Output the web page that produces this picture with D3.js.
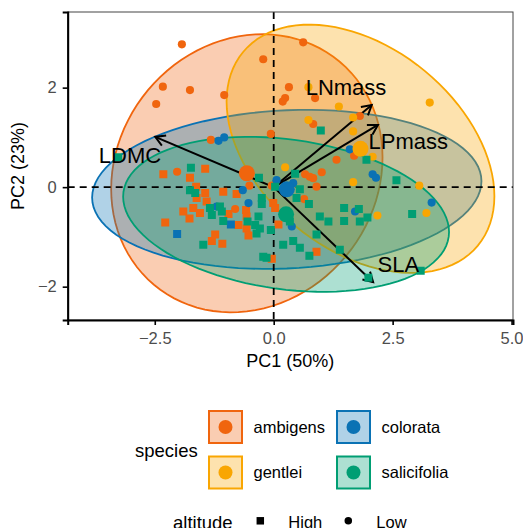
<!DOCTYPE html>
<html>
<head>
<meta charset="utf-8">
<script src="https://cdn.jsdelivr.net/npm/d3@7"></script>
<style>
body { margin: 0; background: #fff; }
text { font-family: "Liberation Sans", Arial, sans-serif; }
</style>
</head>
<body>
<svg id="chart" width="523" height="528"></svg>
<script>
// species and colours
const species = ["ambigens", "colorata", "gentlei", "salicifolia"];
const speciesColors = ["#F0650E", "#0A72B4", "#F9A602", "#009E73"];
const altitudes = ["High", "Low"];

// PCA scores (L = Low altitude, H = High altitude)
const ambigensPC1 = [-1.93, -2.33, -1.76, -2.47, -1.04, -1.32, -2.03, 0.62, -0.22, 0.32, 0.24, 0.19, 0.87, 1.81, 0.83, -0.06, 1.69, 1.32, 0.66, 0.76, 0.83, 1.01, 0.90, -0.51, 0.64, -0.81, -0.04,
  -2.32, -1.44, -1.76, -1.63, -1.44, -1.06, -1.62, -1.41, -0.78, -1.90, -1.69, -1.55, -1.77, -0.95, -0.74, -2.28, -1.23, -1.30, -1.08, -0.01, 0.03, -0.58, -0.57, 0.10, -0.57, -0.53, 0.90, -0.04];
const ambigensPC2 = [2.87, 2.02, 1.95, 1.67, 1.85, 0.95, 0.31, 2.91, 2.57, 2.01, 1.79, 1.72, 1.79, 1.43, 1.27, 1.07, 0.63, 0.55, 0.26, 0.21, 0.18, 0.30, 0.01, 0.03, -0.24, -0.44, 0.03,
  0.26, 0.37, 0.19, 0.01, -0.12, -0.09, -0.22, -0.29, -0.14, -0.49, -0.42, -0.52, -0.63, -0.54, -0.76, -0.71, -0.95, -1.08, -1.14, -0.32, -0.42, -0.46, -0.59, -0.75, -0.83, -0.97, -1.30, -1.44];
const ambigensAlt = "LLLLLLLLLLLLLLLLLLLLLLLLLLLHHHHHHHHHHHHHHHHHHHHHHHHHHHH";

const colorataPC1 = [-1.16, -1.04, 1.60, 2.08, 2.15, 0.06, -0.65, 0.20, 0.41, -0.53, 0.38, 1.71, 3.32, -1.20, -0.90, -2.03];
const colorataPC2 = [0.93, 1.00, 0.76, 0.26, 0.19, 0.14, -0.06, -0.02, 0.08, -0.32, -0.79, -0.49, -0.31, -0.39, -0.75, -0.94];
const colorataAlt = "LLLLLLLLLLLLLLHH";

const gentleiPC1 = [0.73, 1.37, 1.67, 0.73, 1.67, 2.08, 0.24, 3.28, 1.67, 2.18, 3.06, 3.21];
const gentleiPC2 = [2.01, 1.62, 1.40, 1.35, 1.12, 0.61, 0.40, 1.70, 0.10, -0.57, 0.03, -0.52];
const gentleiAlt = "LLLLLLLLLLLL";

const salicifoliaPC1 = [-1.74, -1.76, -1.65, -1.34, -1.13, -1.30, -1.09, -1.06, -1.48, 0.99, 1.95, 0.45, 2.58, -0.31, 0.03, 0.55, 0.48, 0.74, -0.25, -0.25,
  -0.32, 0.34, 0.97, 1.15, 1.48, 1.79, 1.97, 1.48, 1.81, -0.55, -0.39, -0.29, -0.36, -0.06, 0.90, 0.41, 0.55, 0.20, 0.75, -0.22, -0.15, 1.39, 1.99, 2.91, 3.09, -3.27];
const salicifoliaPC2 = [0.39, -0.06, -0.12, -0.42, -0.39, -0.56, -0.49, -0.68, -1.16, 1.14, 0.55, 0.27, 0.14, 0.19, 0.01, -0.04, -0.22, -0.34, -0.22, -0.34,
  -0.59, -0.69, -0.59, -0.69, -0.42, -0.44, -0.61, -0.68, -0.69, -0.69, -0.76, -0.83, -0.93, -0.86, -0.95, -1.08, -1.22, -1.16, -1.38, -1.40, -1.42, -1.26, -1.82, -0.54, -1.68, 0.60];
const salicifoliaAlt = "HHHHHHHHHHHHHHHHHHHHHHHHHHHHHHHHHHHHHHHHHHHHHH";

// variable loadings (arrows) and where their labels sit
const variables = ["LDMC", "LNmass", "LPmass", "SLA"];
const loadPC1 = [-2.49, 2.06, 2.19, 2.09];
const loadPC2 = [1.01, 1.65, 1.25, -1.91];
const labelPC1 = [-3.02, 1.52, 2.83, 2.62];
const labelPC2 = [0.63, 2.00, 0.92, -1.56];

const xTicks = [-2.5, 0, 2.5, 5];
const yTicks = [-2, 0, 2];

// ---------------------------------------------------------------
const scores = {
  ambigens: [ambigensPC1, ambigensPC2, ambigensAlt],
  colorata: [colorataPC1, colorataPC2, colorataAlt],
  gentlei: [gentleiPC1, gentleiPC2, gentleiAlt],
  salicifolia: [salicifoliaPC1, salicifoliaPC2, salicifoliaAlt]
};
var points = [];
species.forEach(function (sp) {
  var s = scores[sp];
  s[0].forEach(function (v, i) {
    points.push({ sp: sp, pc1: v, pc2: s[1][i], alt: s[2][i] == "H" ? "High" : "Low" });
  });
});

const color = d3.scaleOrdinal().domain(species).range(speciesColors);

var svg = d3.select("#chart");
var pLeft = 67.7, pRight = 513, pTop = 12, pBottom = 320;
var x = d3.scaleLinear().domain([-4.33, 5.03]).range([pLeft, pRight]);
var y = d3.scaleLinear().domain([-2.67, 3.52]).range([pBottom, pTop]);

svg.append("clipPath").attr("id", "panel")
  .append("rect").attr("x", pLeft).attr("y", pTop).attr("width", pRight - pLeft).attr("height", pBottom - pTop);

var plot = svg.append("g").attr("clip-path", "url(#panel)");

// normal-theory 95% ellipse, like stat_ellipse(type = "norm")
function ellipse(px, py) {
  var n = px.length;
  var mx = d3.mean(px), my = d3.mean(py);
  var sxx = d3.sum(px, function (v) { return (v - mx) * (v - mx); }) / (n - 1);
  var syy = d3.sum(py, function (v) { return (v - my) * (v - my); }) / (n - 1);
  var sxy = d3.sum(px, function (v, i) { return (v - mx) * (py[i] - my); }) / (n - 1);
  var m = n - 1;
  var q = (m / 2) * (Math.pow(0.05, -2 / m) - 1); // qf(0.95, 2, n-1)
  var r = Math.sqrt(2 * q);
  var a = Math.sqrt(sxx), b = sxy / a, c = Math.sqrt(syy - b * b);
  return d3.range(0, 100).map(function (k) {
    var t = 2 * Math.PI * k / 100;
    return [mx + r * a * Math.cos(t), my + r * (b * Math.cos(t) + c * Math.sin(t))];
  });
}

var line = d3.line()
  .x(function (d) { return x(d[0]); })
  .y(function (d) { return y(d[1]); })
  .curve(d3.curveLinearClosed);

species.forEach(function (sp) {
  plot.append("path")
    .attr("d", line(ellipse(scores[sp][0], scores[sp][1])))
    .attr("fill", color(sp))
    .attr("fill-opacity", 0.32)
    .attr("stroke", color(sp))
    .attr("stroke-width", 1.8);
});

// dashed zero lines
plot.append("line").attr("x1", pLeft).attr("x2", pRight).attr("y1", y(0)).attr("y2", y(0))
  .attr("stroke", "#000").attr("stroke-width", 1.8).attr("stroke-dasharray", "7,5");
plot.append("line").attr("x1", x(0)).attr("x2", x(0)).attr("y1", pTop).attr("y2", pBottom)
  .attr("stroke", "#000").attr("stroke-width", 1.8).attr("stroke-dasharray", "7,5");

// loading arrows
variables.forEach(function (v, i) {
  var x0 = x(0), y0 = y(0), x1 = x(loadPC1[i]), y1 = y(loadPC2[i]);
  plot.append("line").attr("x1", x0).attr("y1", y0).attr("x2", x1).attr("y2", y1)
    .attr("stroke", "#000").attr("stroke-width", 2);
  var ang = Math.atan2(y1 - y0, x1 - x0), len = 11;
  var w1 = [x1 - len * Math.cos(ang - Math.PI / 6), y1 - len * Math.sin(ang - Math.PI / 6)];
  var w2 = [x1 - len * Math.cos(ang + Math.PI / 6), y1 - len * Math.sin(ang + Math.PI / 6)];
  plot.append("path")
    .attr("d", "M" + w1 + "L" + x1 + "," + y1 + "L" + w2)
    .attr("fill", "none").attr("stroke", "#000").attr("stroke-width", 2);
});

// points
var symbol = d3.symbol();
plot.selectAll(".pt").data(points).enter().append("path")
  .attr("class", "pt")
  .attr("transform", function (d) { return "translate(" + x(d.pc1) + "," + y(d.pc2) + ")"; })
  .attr("d", function (d) {
    return d.alt == "High" ? symbol.type(d3.symbolSquare).size(64)() : symbol.type(d3.symbolCircle).size(52)();
  })
  .attr("fill", function (d) { return color(d.sp); });

// group means
species.forEach(function (sp) {
  plot.append("circle")
    .attr("cx", x(d3.mean(scores[sp][0])))
    .attr("cy", y(d3.mean(scores[sp][1])))
    .attr("r", 8)
    .attr("fill", color(sp));
});

// variable labels
variables.forEach(function (v, i) {
  plot.append("text")
    .attr("x", x(labelPC1[i])).attr("y", y(labelPC2[i])).attr("dy", "0.35em")
    .attr("text-anchor", "middle").attr("font-size", 22).attr("fill", "#000")
    .text(v);
});

// panel border and axes
svg.append("rect").attr("x", pLeft).attr("y", pTop).attr("width", pRight - pLeft).attr("height", pBottom - pTop)
  .attr("fill", "none").attr("stroke", "#444").attr("stroke-width", 1);

var xAxis = svg.append("g").attr("transform", "translate(0," + pBottom + ")")
  .call(d3.axisBottom(x).tickValues(xTicks).tickFormat(d3.format(".1f")).tickSize(5).tickPadding(7));
var yAxis = svg.append("g").attr("transform", "translate(" + pLeft + ",0)")
  .call(d3.axisLeft(y).tickValues(yTicks).tickFormat(d3.format("d")).tickSize(5).tickPadding(6));
[xAxis, yAxis].forEach(function (g) {
  g.select(".domain").attr("stroke", "#000").attr("stroke-width", 2);
  g.selectAll(".tick line").attr("stroke", "#000").attr("stroke-width", 1.6);
  g.selectAll(".tick text").attr("font-size", 16.5).attr("fill", "#4D4D4D")
    .attr("font-family", "Liberation Sans, Arial, sans-serif");
});

svg.append("text").attr("x", (pLeft + pRight) / 2).attr("y", 367)
  .attr("text-anchor", "middle").attr("font-size", 18).text("PC1 (50%)");
svg.append("text").attr("transform", "translate(24," + (pTop + pBottom) / 2 + ") rotate(-90)")
  .attr("text-anchor", "middle").attr("font-size", 18).text("PC2 (23%)");

// legend: species
var leg = svg.append("g");
leg.append("text").attr("x", 135).attr("y", 456.8).attr("font-size", 18.5).text("species");
var keyX = [208, 208, 336, 336], keyY = [410, 455.5, 410, 455.5];
var keyOrder = ["ambigens", "gentlei", "colorata", "salicifolia"];
keyOrder.forEach(function (sp, i) {
  var c = color(sp);
  leg.append("rect").attr("x", keyX[i] + 1).attr("y", keyY[i] + 1).attr("width", 33).attr("height", 32)
    .attr("fill", c).attr("fill-opacity", 0.32).attr("stroke", c).attr("stroke-width", 2);
  leg.append("circle").attr("cx", keyX[i] + 17.5).attr("cy", keyY[i] + 17).attr("r", 7).attr("fill", c);
  leg.append("text").attr("x", keyX[i] + 45.5).attr("y", keyY[i] + 22.8).attr("font-size", 16.5).text(sp);
});

// legend: altitude
leg.append("text").attr("x", 173).attr("y", 529).attr("font-size", 18.5).text("altitude");
var altX = [260.3, 348.3];
altitudes.forEach(function (a, i) {
  leg.append("path")
    .attr("transform", "translate(" + altX[i] + ",520.8)")
    .attr("d", a == "High" ? symbol.type(d3.symbolSquare).size(56)() : symbol.type(d3.symbolCircle).size(44)())
    .attr("fill", "#000");
  leg.append("text").attr("x", altX[i] + 28).attr("y", 528).attr("font-size", 16.5).text(a);
});
</script>
</body>
</html>
